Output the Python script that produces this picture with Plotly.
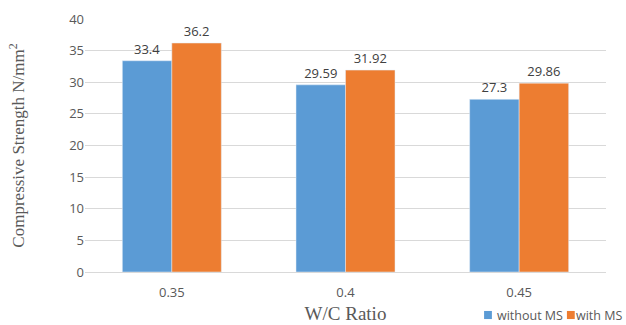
import plotly.graph_objects as go

ratios = ["0.35", "0.4", "0.45"]
without_ms = [33.4, 29.59, 27.3]
with_ms = [36.2, 31.92, 29.86]
without_labels = ["33.4", "29.59", "27.3"]
with_labels = ["36.2", "31.92", "29.86"]
series_names = ["without MS", "with MS"]
series_colors = ["#5B9BD5", "#ED7D31"]

sans = "Open Sans, Liberation Sans, sans-serif"
serif = "Liberation Serif, DejaVu Serif, serif"

fig = go.Figure()
for name, vals, labels, color in zip(series_names, [without_ms, with_ms],
                                     [without_labels, with_labels], series_colors):
    fig.add_trace(go.Bar(
        x=ratios, y=vals, name=name,
        marker_color=color, text=labels, textposition="outside",
        textfont=dict(family=sans, size=13, color="#404040"), cliponaxis=False,
    ))

# Compact legend along the bottom-right edge: small square swatch + label
legend_slots = [(0.766, 0.789), (0.925, 0.940)]
for (sx, tx), name, color in zip(legend_slots, series_names, series_colors):
    fig.add_shape(type="rect", xref="paper", yref="paper",
                  x0=sx, x1=sx + 0.015, y0=-0.186, y1=-0.154,
                  fillcolor=color, line_width=0)
    fig.add_annotation(xref="paper", yref="paper", x=tx, y=-0.170,
                       xanchor="left", yanchor="middle", showarrow=False, borderpad=0,
                       text=name, font=dict(family=sans, size=12.5, color="#595959"))

fig.update_layout(
    width=626, height=325,
    margin=dict(l=85, r=20, t=19, b=53, autoexpand=False),
    paper_bgcolor="white", plot_bgcolor="white",
    barmode="group", bargap=0.43, bargroupgap=0,
    font=dict(family=sans, size=12, color="#595959"),
    showlegend=False,
    xaxis=dict(
        title=dict(text="W/C Ratio", font=dict(family=serif, size=19, color="#595959"), standoff=7),
        showline=True, linecolor="#D9D9D9", ticks="", ticklabelstandoff=8,
        tickfont=dict(size=13, color="#595959"),
    ),
    yaxis=dict(
        range=[0, 40], dtick=5, showgrid=True, gridcolor="#D9D9D9", zeroline=False,
        title=dict(text="Compressive Strength N/mm<sup>2</sup>",
                   font=dict(family=serif, size=17, color="#595959"), standoff=40),
        tickfont=dict(size=13, color="#595959"), ticks="",
    ),
)

fig.write_html("out.html")
